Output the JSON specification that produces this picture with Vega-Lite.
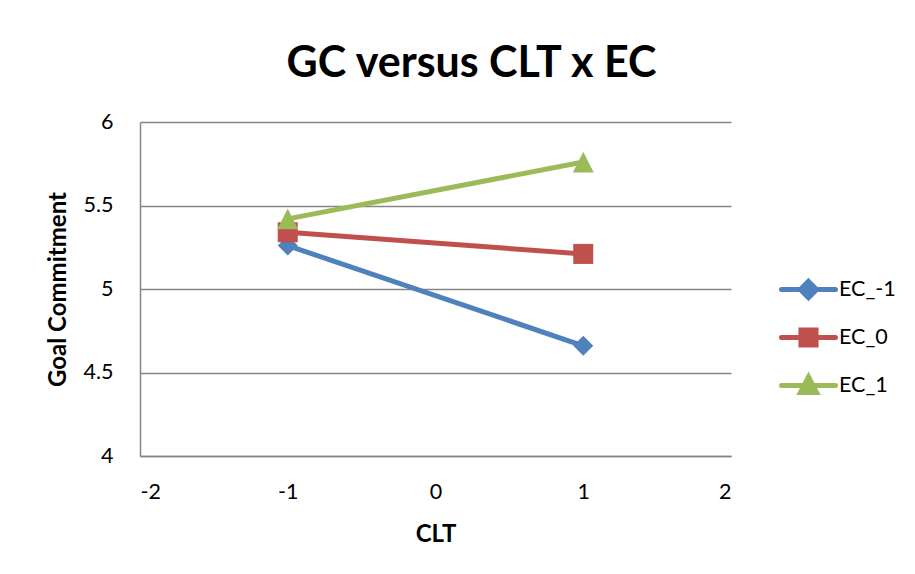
{
  "$schema": "https://vega.github.io/schema/vega-lite/v6.json",
  "width": 591,
  "height": 334,
  "autosize": {"type": "none"},
  "padding": {"left": 140, "top": 122, "right": 184, "bottom": 118},
  "background": "white",
  "title": {
    "text": "GC versus CLT x EC",
    "font": "Lato",
    "fontSize": 43,
    "fontWeight": "bold",
    "color": "#000000",
    "anchor": "middle",
    "dx": 36,
    "offset": 25
  },
  "data": {
    "values": [
      {"series": "EC_-1", "CLT": -1, "GC": 5.26},
      {"series": "EC_-1", "CLT": 1, "GC": 4.66},
      {"series": "EC_0", "CLT": -1, "GC": 5.34},
      {"series": "EC_0", "CLT": 1, "GC": 5.21},
      {"series": "EC_1", "CLT": -1, "GC": 5.42},
      {"series": "EC_1", "CLT": 1, "GC": 5.76}
    ]
  },
  "config": {
    "view": {"stroke": null},
    "font": "Lato",
    "axis": {
      "labelFont": "Lato",
      "labelFontSize": 21.5,
      "labelColor": "#000000",
      "titleFont": "Lato",
      "titleFontSize": 24,
      "titleFontWeight": "bold",
      "titleColor": "#000000",
      "domainColor": "#868686",
      "domainWidth": 1.5,
      "gridColor": "#868686",
      "gridWidth": 1.5,
      "gridOpacity": 1,
      "ticks": false
    }
  },
  "encoding": {
    "x": {
      "field": "CLT",
      "type": "quantitative",
      "scale": {"domain": [-2, 2], "nice": false},
      "axis": {
        "values": [-2, -1, 0, 1, 2],
        "labelExpr": "'' + datum.value",
        "grid": false,
        "labelPadding": 25,
        "titlePadding": 20,
        "title": "CLT"
      }
    },
    "y": {
      "field": "GC",
      "type": "quantitative",
      "scale": {"domain": [4, 6], "nice": false, "zero": false},
      "axis": {
        "values": [4, 4.5, 5, 5.5, 6],
        "format": "~g",
        "grid": true,
        "labelPadding": 27,
        "titlePadding": 12,
        "title": "Goal Commitment"
      }
    },
    "color": {
      "field": "series",
      "type": "nominal",
      "scale": {"domain": ["EC_-1", "EC_0", "EC_1"], "range": ["#4F81BD", "#C0504D", "#9BBB59"]},
      "legend": null
    }
  },
  "layer": [
    {
      "mark": {"type": "line", "strokeWidth": 5},
      "encoding": {
        "color": {
          "field": "series",
          "type": "nominal",
          "scale": {"domain": ["EC_-1", "EC_0", "EC_1"], "range": ["#4F81BD", "#C0504D", "#9BBB59"]},
          "legend": {
            "title": null,
            "orient": "none",
            "legendX": 639,
            "legendY": 138,
            "padding": 0,
            "rowPadding": 0,
            "symbolSize": 2916,
            "symbolType": "M-1,0H1",
            "labelFont": "Lato",
            "labelFontSize": 21.5,
            "labelColor": "#000000",
            "labelOffset": 1,
            "symbolStrokeWidth": 5,
            "encode": {
              "symbols": {
                "update": {
                  "shape": {"signal": "datum.value == 'EC_-1' ? 'M-1,0H1M0,-0.3L0.3,0L0,0.3L-0.3,0Z' : datum.value == 'EC_0' ? 'M-1,0H1M-0.28,-0.28H0.28V0.28H-0.28Z' : 'M-1,0H1M0,-0.32L0.3,0.26H-0.3Z'"},
                  "fill": {"scale": "color", "field": "value"},
                  "stroke": {"scale": "color", "field": "value"},
                  "strokeWidth": {"value": 5},
                  "strokeCap": {"value": "round"},
                  "opacity": {"value": 1},
                  "fillOpacity": {"value": 1}
                }
              }
            }
          }
        }
      }
    },
    {
      "transform": [{"filter": "datum.series == 'EC_-1'"}],
      "mark": {"type": "point", "filled": true, "opacity": 1, "size": 400, "shape": "diamond"}
    },
    {
      "transform": [{"filter": "datum.series == 'EC_0'"}],
      "mark": {"type": "point", "filled": true, "opacity": 1, "size": 400, "shape": "square"}
    },
    {
      "transform": [{"filter": "datum.series == 'EC_1'"}],
      "mark": {"type": "point", "filled": true, "opacity": 1, "size": 400, "shape": "M0,-1.03L1.05,1.03H-1.05Z"}
    }
  ]
}
